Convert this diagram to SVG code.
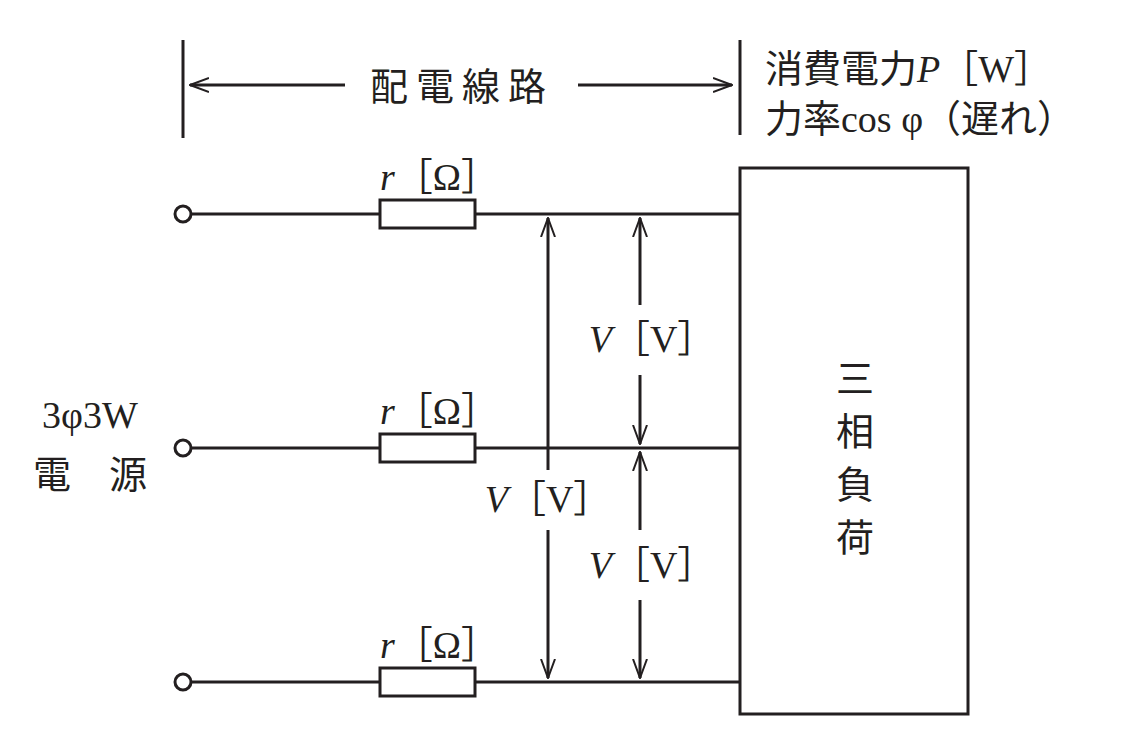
<svg xmlns="http://www.w3.org/2000/svg" width="1145" height="742" viewBox="0 0 1145 742">
<style>
.l{stroke:#231f20;stroke-width:3;fill:none}
.t{font-family:"Liberation Serif","Noto Sans CJK JP",serif;fill:#231f20;font-size:38px}
.i{font-style:italic}
</style>
<defs>
<marker id="a" viewBox="0 0 20 20" refX="19" refY="10" markerWidth="20" markerHeight="20" markerUnits="userSpaceOnUse" orient="auto-start-reverse">
<path d="M0,3 L19,10 L0,17" fill="none" stroke="#231f20" stroke-width="2"/>
</marker>
</defs>
<rect width="1145" height="742" fill="#fff"/>
<g id="connectors">
<line class="l" x1="183" y1="40" x2="183" y2="138"/>
<line class="l" x1="740" y1="40" x2="740" y2="135"/>
<line class="l" x1="190" y1="85" x2="345" y2="85" marker-start="url(#a)"/>
<line class="l" x1="578" y1="85" x2="732" y2="85" marker-end="url(#a)"/>
<line class="l" x1="191" y1="214" x2="380" y2="214"/>
<line class="l" x1="475" y1="214" x2="740" y2="214"/>
<line class="l" x1="191" y1="448" x2="380" y2="448"/>
<line class="l" x1="475" y1="448" x2="740" y2="448"/>
<line class="l" x1="191" y1="682" x2="380" y2="682"/>
<line class="l" x1="475" y1="682" x2="740" y2="682"/>
<line class="l" x1="548" y1="470" x2="548" y2="218" marker-end="url(#a)"/>
<line class="l" x1="548" y1="530" x2="548" y2="678" marker-end="url(#a)"/>
<line class="l" x1="640" y1="305" x2="640" y2="218" marker-end="url(#a)"/>
<line class="l" x1="640" y1="375" x2="640" y2="444" marker-end="url(#a)"/>
<line class="l" x1="640" y1="530" x2="640" y2="452" marker-end="url(#a)"/>
<line class="l" x1="640" y1="600" x2="640" y2="678" marker-end="url(#a)"/>
</g>
<g id="terminals">
<circle class="l" cx="183" cy="214" r="8" stroke-width="4"/>
<circle class="l" cx="183" cy="448" r="8" stroke-width="4"/>
<circle class="l" cx="183" cy="682" r="8" stroke-width="4"/>
</g>
<g id="r1"><rect class="l" x="380" y="200" width="95" height="28" stroke-width="4"/><text class="t" x="380" y="190"><tspan class="i">r</tspan>［Ω］</text></g>
<g id="r2"><rect class="l" x="380" y="434" width="95" height="28" stroke-width="4"/><text class="t" x="380" y="424"><tspan class="i">r</tspan>［Ω］</text></g>
<g id="r3"><rect class="l" x="380" y="668" width="95" height="28" stroke-width="4"/><text class="t" x="380" y="658"><tspan class="i">r</tspan>［Ω］</text></g>
<g id="load"><rect class="l" x="740" y="168" width="228" height="546" stroke-width="4"/>
<text class="t" x="855" y="392" text-anchor="middle" font-size="48">三</text>
<text class="t" x="855" y="445" text-anchor="middle" font-size="48">相</text>
<text class="t" x="855" y="498" text-anchor="middle" font-size="48">負</text>
<text class="t" x="855" y="551" text-anchor="middle" font-size="48">荷</text></g>
<g id="labels">
<text class="t" x="462" y="100" text-anchor="middle" font-size="44" letter-spacing="8">配電線路</text>
<text class="t" x="765" y="82" font-size="42">消費電力<tspan class="i">P</tspan>［W］</text>
<text class="t" x="765" y="132" font-size="42">力率cos φ（遅れ）</text>
<text class="t" x="90" y="428" text-anchor="middle" font-size="44">3φ3W</text>
<text class="t" x="90" y="488" text-anchor="middle" font-size="44">電　源</text>
<text class="t" x="548" y="512" text-anchor="middle"><tspan class="i">V</tspan>［V］</text>
<text class="t" x="652" y="352" text-anchor="middle"><tspan class="i">V</tspan>［V］</text>
<text class="t" x="652" y="578" text-anchor="middle"><tspan class="i">V</tspan>［V］</text>
</g>
</svg>
